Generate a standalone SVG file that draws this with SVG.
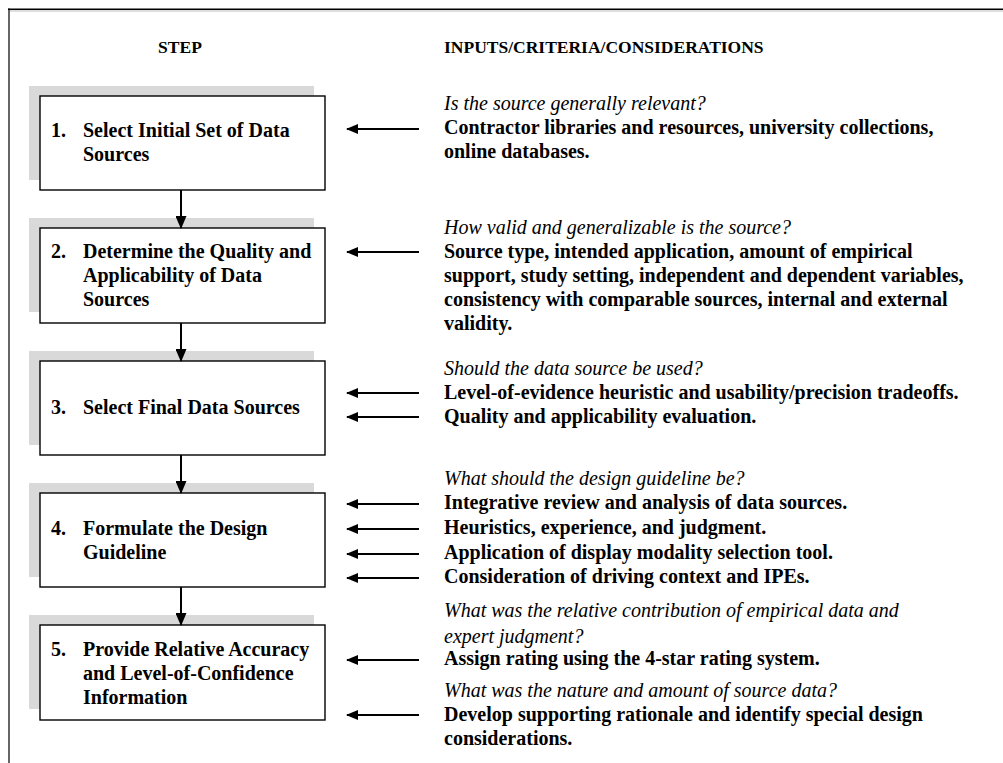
<svg xmlns="http://www.w3.org/2000/svg" width="1003" height="763" viewBox="0 0 1003 763">
  <defs>
    <marker id="head" viewBox="0 0 13 11" refX="12" refY="5.5" markerWidth="6.5" markerHeight="5.5" orient="auto" markerUnits="strokeWidth">
      <path d="M0,0 L13,5.5 L0,11 Z" fill="#000"/>
    </marker>
    <marker id="headIn" viewBox="0 0 12 10" refX="11" refY="5" markerWidth="6" markerHeight="5" orient="auto" markerUnits="strokeWidth">
      <path d="M0,0 L12,5 L0,10 Z" fill="#000"/>
    </marker>
    <style>
      .frame { stroke: #000; fill: none; }
      .shadow { fill: #d9d9d9; }
      .box { fill: #fff; stroke: #000; stroke-width: 1.4; }
      .hd { font-family: "Liberation Serif", "Times New Roman", serif; font-weight: bold; font-size: 17.5px; fill: #000; }
      .bt { font-family: "Liberation Serif", "Times New Roman", serif; font-weight: bold; font-size: 20px; fill: #000; }
      .q { font-family: "Liberation Serif", "Times New Roman", serif; font-style: italic; font-size: 20px; fill: #000; }
      .flow { stroke: #000; stroke-width: 2; fill: none; marker-end: url(#head); }
      .feed { stroke: #000; stroke-width: 2; fill: none; marker-end: url(#headIn); }
    </style>
  </defs>

  <rect width="1003" height="763" fill="#fff"/>

  <!-- page frame: top rule with light underline, left rule -->
  <g id="frame">
    <line class="frame" x1="8" y1="9.25" x2="1003" y2="9.25" stroke-width="1.5"/>
    <line x1="9.5" y1="11" x2="1003" y2="11" stroke="#bdbdbd" stroke-width="1"/>
    <line class="frame" x1="9" y1="8.5" x2="9" y2="763" stroke-width="1.2"/>
  </g>

  <!-- column headings -->
  <g id="headings">
    <text class="hd" x="180" y="53" text-anchor="middle">STEP</text>
    <text class="hd" x="444" y="53">INPUTS/CRITERIA/CONSIDERATIONS</text>
  </g>

  <!-- step boxes -->
  <g id="step1">
    <rect class="shadow" x="29" y="86" width="285" height="94"/>
    <rect class="box" x="40" y="96" width="285" height="94"/>
    <text class="bt" x="51" y="137">1.</text>
    <text class="bt" x="83" y="137">Select Initial Set of Data</text>
    <text class="bt" x="83" y="161">Sources</text>
  </g>
  <g id="step2">
    <rect class="shadow" x="29" y="218" width="285" height="94"/>
    <rect class="box" x="40" y="228" width="285" height="95"/>
    <text class="bt" x="51" y="258">2.</text>
    <text class="bt" x="83" y="258">Determine the Quality and</text>
    <text class="bt" x="83" y="282">Applicability of Data</text>
    <text class="bt" x="83" y="306">Sources</text>
  </g>
  <g id="step3">
    <rect class="shadow" x="29" y="351" width="285" height="94"/>
    <rect class="box" x="40" y="361" width="285" height="94"/>
    <text class="bt" x="51" y="414">3.</text>
    <text class="bt" x="83" y="414">Select Final Data Sources</text>
  </g>
  <g id="step4">
    <rect class="shadow" x="29" y="483" width="285" height="94"/>
    <rect class="box" x="40" y="493" width="285" height="94"/>
    <text class="bt" x="51" y="535">4.</text>
    <text class="bt" x="83" y="535">Formulate the Design</text>
    <text class="bt" x="83" y="559">Guideline</text>
  </g>
  <g id="step5">
    <rect class="shadow" x="29" y="615" width="285" height="94"/>
    <rect class="box" x="40" y="625" width="285" height="95"/>
    <text class="bt" x="51" y="656">5.</text>
    <text class="bt" x="83" y="656">Provide Relative Accuracy</text>
    <text class="bt" x="83" y="680">and Level-of-Confidence</text>
    <text class="bt" x="83" y="704">Information</text>
  </g>

  <!-- inputs, criteria and considerations for each step -->
  <g id="inputs1">
    <text class="q" x="444" y="110">Is the source generally relevant?</text>
    <text class="bt" x="444" y="134">Contractor libraries and resources, university collections,</text>
    <text class="bt" x="444" y="158">online databases.</text>
  </g>
  <g id="inputs2">
    <text class="q" x="444" y="234">How valid and generalizable is the source?</text>
    <text class="bt" x="444" y="258">Source type, intended application, amount of empirical</text>
    <text class="bt" x="444" y="282">support, study setting, independent and dependent variables,</text>
    <text class="bt" x="444" y="306">consistency with comparable sources, internal and external</text>
    <text class="bt" x="444" y="330">validity.</text>
  </g>
  <g id="inputs3">
    <text class="q" x="444" y="375">Should the data source be used?</text>
    <text class="bt" x="444" y="399">Level-of-evidence heuristic and usability/precision tradeoffs.</text>
    <text class="bt" x="444" y="423">Quality and applicability evaluation.</text>
  </g>
  <g id="inputs4">
    <text class="q" x="444" y="485">What should the design guideline be?</text>
    <text class="bt" x="444" y="509">Integrative review and analysis of data sources.</text>
    <text class="bt" x="444" y="534">Heuristics, experience, and judgment.</text>
    <text class="bt" x="444" y="559">Application of display modality selection tool.</text>
    <text class="bt" x="444" y="583">Consideration of driving context and IPEs.</text>
  </g>
  <g id="inputs5">
    <text class="q" x="444" y="617">What was the relative contribution of empirical data and</text>
    <text class="q" x="444" y="643">expert judgment?</text>
    <text class="bt" x="444" y="665">Assign rating using the 4-star rating system.</text>
    <text class="q" x="444" y="697">What was the nature and amount of source data?</text>
    <text class="bt" x="444" y="721">Develop supporting rationale and identify special design</text>
    <text class="bt" x="444" y="745">considerations.</text>
  </g>

  <!-- connectors: step-to-step flow and incoming inputs -->
  <g id="connectors">
    <line class="flow" x1="181" y1="190" x2="181" y2="228"/>
    <line class="flow" x1="181" y1="323" x2="181" y2="361"/>
    <line class="flow" x1="181" y1="455" x2="181" y2="493"/>
    <line class="flow" x1="181" y1="587" x2="181" y2="625"/>

    <line class="feed" x1="419" y1="129" x2="347" y2="129"/>
    <line class="feed" x1="419" y1="252" x2="347" y2="252"/>
    <line class="feed" x1="419" y1="393" x2="347" y2="393"/>
    <line class="feed" x1="419" y1="417" x2="347" y2="417"/>
    <line class="feed" x1="419" y1="504" x2="347" y2="504"/>
    <line class="feed" x1="419" y1="529" x2="347" y2="529"/>
    <line class="feed" x1="419" y1="554" x2="347" y2="554"/>
    <line class="feed" x1="419" y1="578" x2="347" y2="578"/>
    <line class="feed" x1="419" y1="660" x2="347" y2="660"/>
    <line class="feed" x1="419" y1="715" x2="347" y2="715"/>
  </g>
</svg>
